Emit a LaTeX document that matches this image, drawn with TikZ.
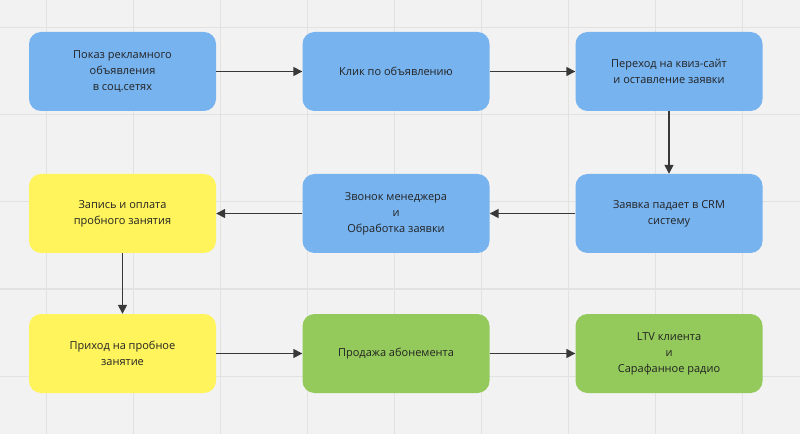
\documentclass[tikz,border=0pt]{standalone}
\usepackage{fontspec}
\setmainfont{Open Sans}
\usetikzlibrary{arrows.meta}
\definecolor{bg}{HTML}{F2F2F2}
\definecolor{gridc}{HTML}{E2E2E2}
\definecolor{bl}{HTML}{77B3EF}
\definecolor{yl}{HTML}{FFF45C}
\definecolor{gr}{HTML}{94CA5C}
\definecolor{tx}{HTML}{222222}
\tikzset{
 box/.style={rounded corners=12pt, minimum width=187pt, minimum height=79pt, align=center, text=tx, font=\fontsize{11}{16}\selectfont, inner sep=2pt},
 arr/.style={-{Triangle[length=9pt,width=9pt]}, line width=1.5pt, draw=tx!90}
}
\begin{document}
\begin{tikzpicture}[x=1pt,y=1pt]
\fill[bg] (0,0) rectangle (800,434);
\useasboundingbox (0,0) rectangle (800,434);
\foreach \x in {46,133,220,307,394,481,568,655,742} \draw[gridc,line width=1pt] (\x,0) -- (\x,434);
\foreach \y in {28,115,202,289,376} \draw[gridc,line width=1pt] (0,434-\y) -- (800,434-\y);
\node[box,fill=bl] (a) at (122.5,362.5) {Показ рекламного\\объявления\\в соц.сетях};
\node[box,fill=bl] (b) at (396,362.5) {Клик по объявлению};
\node[box,fill=bl] (c) at (669,362.5) {Переход на квиз-сайт\\и оставление заявки};
\node[box,fill=bl] (d) at (669,220.5) {Заявка падает в CRM\\систему};
\node[box,fill=bl] (e) at (396,220.5) {Звонок менеджера\\и\\Обработка заявки};
\node[box,fill=yl] (f) at (122.5,220.5) {Запись и оплата\\пробного занятия};
\node[box,fill=yl] (g) at (122.5,80.5) {Приход на пробное\\занятие};
\node[box,fill=gr] (h) at (396,80.5) {Продажа абонемента};
\node[box,fill=gr] (i) at (669,80.5) {LTV клиента\\и\\Сарафанное радио};
\draw[arr] (a) -- (b);
\draw[arr] (b) -- (c);
\draw[arr] (c) -- (d);
\draw[arr] (d) -- (e);
\draw[arr] (e) -- (f);
\draw[arr] (f) -- (g);
\draw[arr] (g) -- (h);
\draw[arr] (h) -- (i);
\end{tikzpicture}
\end{document}
